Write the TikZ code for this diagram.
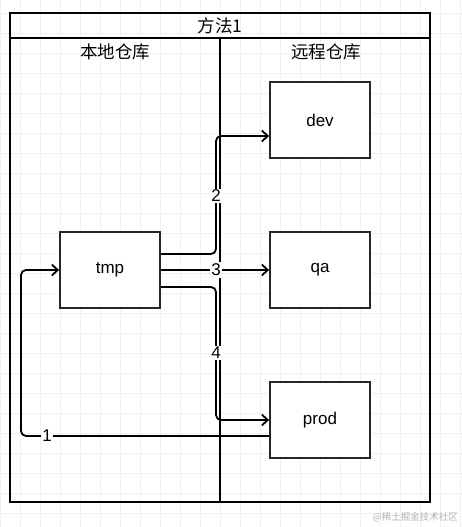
\documentclass[tikz,border=0pt]{standalone}
\usepackage{fontspec}
\setmainfont{Liberation Sans}
\newfontfamily\cjk{Noto Sans CJK SC}
\usetikzlibrary{arrows.meta}
\begin{document}
\begin{tikzpicture}[x=1pt,y=-1pt,
  box/.style={draw=black!85,line width=1.8pt,fill=white,minimum width=100pt,minimum height=76pt,inner sep=0pt,font=\fontsize{17}{19}\selectfont},
  frameline/.style={draw=black,line width=2.3pt},
  conn/.style={draw=black,line width=1.8pt,rounded corners=5pt,-{Straight Barb[length=6pt,width=11pt,line width=1.8pt]}},
  lbl/.style={fill=white,inner sep=1.5pt,font=\fontsize{17}{19}\selectfont},
  head/.style={font=\cjk\fontsize{17.5}{20}\selectfont}]
\useasboundingbox (0,0) rectangle (462,527);
\fill[white] (0,0) rectangle (462,527);
% grid
\foreach \x in {0,20,...,460} \draw[black!6,line width=0.6pt] (\x,0) -- (\x,527);
\foreach \y in {13,33,...,527} \draw[black!6,line width=0.6pt] (0,\y) -- (462,\y);
% frame
\draw[frameline] (10,13) rectangle (430,502);
\draw[frameline] (10,38) -- (430,38);
\draw[frameline] (220,38) -- (220,502);
\node[head] (title) at (220,25.5) {方法1};
\node[head] (local) at (115,52) {本地仓库};
\node[head] (remote) at (326,52) {远程仓库};
% boxes
\node[box] (tmp) at (110,270) {tmp};
\node[box] (dev) at (320,120) {dev};
\node[box] (qa) at (320,270) {qa};
\node[box] (prod) at (320,420) {prod};
% connectors
\draw[conn] ([yshift=16pt]tmp.east) -| (216,200) |- ([yshift=-16pt]dev.west);
\node[lbl] (l2) at (216,196) {2};
\draw[conn] (tmp.east) -- (qa.west);
\node[lbl] (l3) at (216,270) {3};
\draw[conn] ([yshift=-17pt]tmp.east) -| (216,360) |- (prod.west);
\node[lbl] (l4) at (216,353) {4};
\draw[conn] ([yshift=-16pt]prod.west) -| (21,300) |- (tmp.west);
\node[lbl] (l1) at (47,436) {1};
% watermark
\node[text=black!30,font=\cjk\fontsize{9.5}{11}\selectfont,anchor=east,inner sep=0pt] (wm) at (458,517) {@稀土掘金技术社区};
\end{tikzpicture}
\end{document}
